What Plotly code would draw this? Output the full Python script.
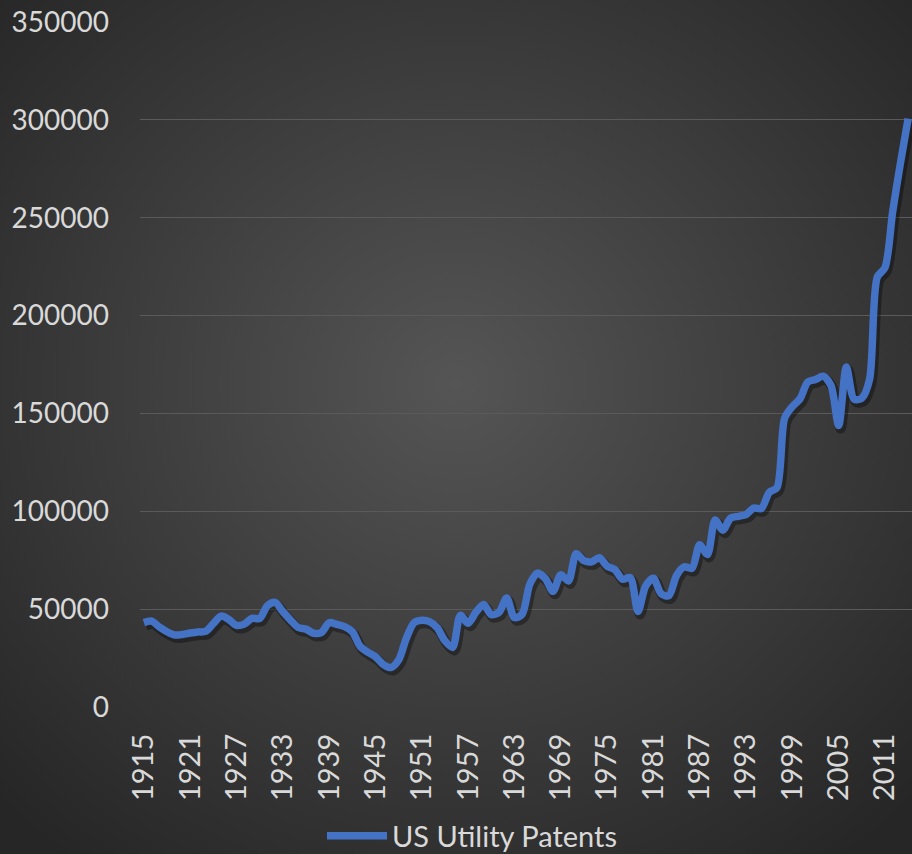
import plotly.graph_objects as go
import urllib.parse

years = list(range(1915, 2015))
patents = [
    43118, 43892, 40935, 38452, 36797, 37060, 37798, 38369, 38616, 42574,
    46432, 44733, 41717, 42357, 45267, 45226, 51756, 53504, 48774, 44420,
    40618, 39782, 37683, 38061, 43073, 42238, 41109, 38514, 31054, 28053,
    25695, 21803, 20139, 23963, 35131, 43040, 44326, 43616, 40468, 33809,
    30432, 46817, 42744, 48330, 52408, 47170, 48368, 55691, 45679, 47375,
    62857, 68405, 65652, 59104, 67559, 64429, 78317, 74810, 74143, 76278,
    72000, 70226, 65269, 66102, 48854, 61819, 65771, 57888, 56860, 67200,
    71661, 70860, 82952, 77924, 95537, 90365, 96511, 97444, 98342, 101676,
    101419, 109645, 111984, 147517, 153485, 157494, 166035, 167331, 169023, 164290,
    143806, 173772, 157282, 157772, 167349, 219614, 224505, 253155, 277835, 300678,
]
tick_years = list(range(1915, 2015, 6))
y_ticks = [0, 50000, 100000, 150000, 200000, 250000, 300000, 350000]
series_name = "US Utility Patents"

W, H = 912, 854
ML, MR, MT, MB = 140, 0, 22, 147
pw, ph = W - ML - MR, H - MT - MB
xr = [1914.5, 2014.5]
yr = [0, 350000]
dx = (xr[1] - xr[0]) / pw
dy = (yr[1] - yr[0]) / ph

fig = go.Figure()
# soft shadow: same data on the (hidden, slightly shifted) base axes
fig.add_trace(go.Scatter(
    x=years, y=patents, mode="lines", xaxis="x", yaxis="y",
    line=dict(color="rgba(0,0,0,0.35)", width=10, shape="spline", smoothing=0.8),
    showlegend=False, hoverinfo="skip",
))
# main series on the visible overlay axes
fig.add_trace(go.Scatter(
    x=years, y=patents, mode="lines", name=series_name, xaxis="x2", yaxis="y2",
    line=dict(color="#4472C4", width=7.5, shape="spline", smoothing=0.8),
))

svg = (
    "<svg xmlns='http://www.w3.org/2000/svg' width='912' height='854'>"
    "<defs><radialGradient id='g' cx='50%' cy='45%' r='70%'>"
    "<stop offset='0%' stop-color='#555555'/>"
    "<stop offset='100%' stop-color='#262626'/>"
    "</radialGradient></defs>"
    "<rect width='912' height='854' fill='url(#g)'/></svg>"
)
src = "data:image/svg+xml;charset=utf-8," + urllib.parse.quote(svg)

font_family = "Lato, 'Open Sans', sans-serif"
fig.update_layout(
    width=W, height=H,
    margin=dict(l=ML, r=MR, t=MT, b=MB, autoexpand=False),
    paper_bgcolor="#2e2e2e",
    plot_bgcolor="rgba(0,0,0,0)",
    font=dict(family=font_family, color="#d9d9d9", size=28),
    images=[dict(
        source=src, xref="paper", yref="paper",
        x=-ML / pw, y=1 + MT / ph, sizex=W / pw, sizey=H / ph,
        xanchor="left", yanchor="top", sizing="stretch", layer="below",
    )],
    xaxis=dict(range=[xr[0] - 2 * dx, xr[1] - 2 * dx], visible=False,
               showgrid=False, zeroline=False),
    yaxis=dict(range=[yr[0] + 3 * dy, yr[1] + 3 * dy], visible=False,
               showgrid=False, zeroline=False),
    xaxis2=dict(
        overlaying="x", side="bottom",
        range=xr, tickmode="array", tickvals=tick_years,
        ticktext=[str(t) for t in tick_years], tickangle=-90,
        showgrid=False, zeroline=False, showline=False, ticks="",
        tickfont=dict(size=29, color="#d9d9d9"), ticklabelstandoff=20,
    ),
    yaxis2=dict(
        overlaying="y", side="left",
        range=yr, tickmode="array", tickvals=y_ticks,
        ticktext=[str(v) for v in y_ticks],
        showgrid=True, gridcolor="#5a5a5a", gridwidth=1.3,
        zeroline=False, showline=False, ticks="",
        tickfont=dict(size=28, color="#d9d9d9"), ticklabelstandoff=30,
    ),
    showlegend=True,
    legend=dict(
        orientation="h", xref="container", yref="container",
        x=472 / W, y=(H - 836) / H,
        xanchor="center", yanchor="middle",
        bgcolor="rgba(0,0,0,0)", font=dict(size=29, color="#d9d9d9"),
        itemwidth=60,
    ),
)

fig.write_html(
    "out.html",
    config={"displayModeBar": False},
    post_script="document.body.style.margin='0';document.body.style.background='#262626';",
)
